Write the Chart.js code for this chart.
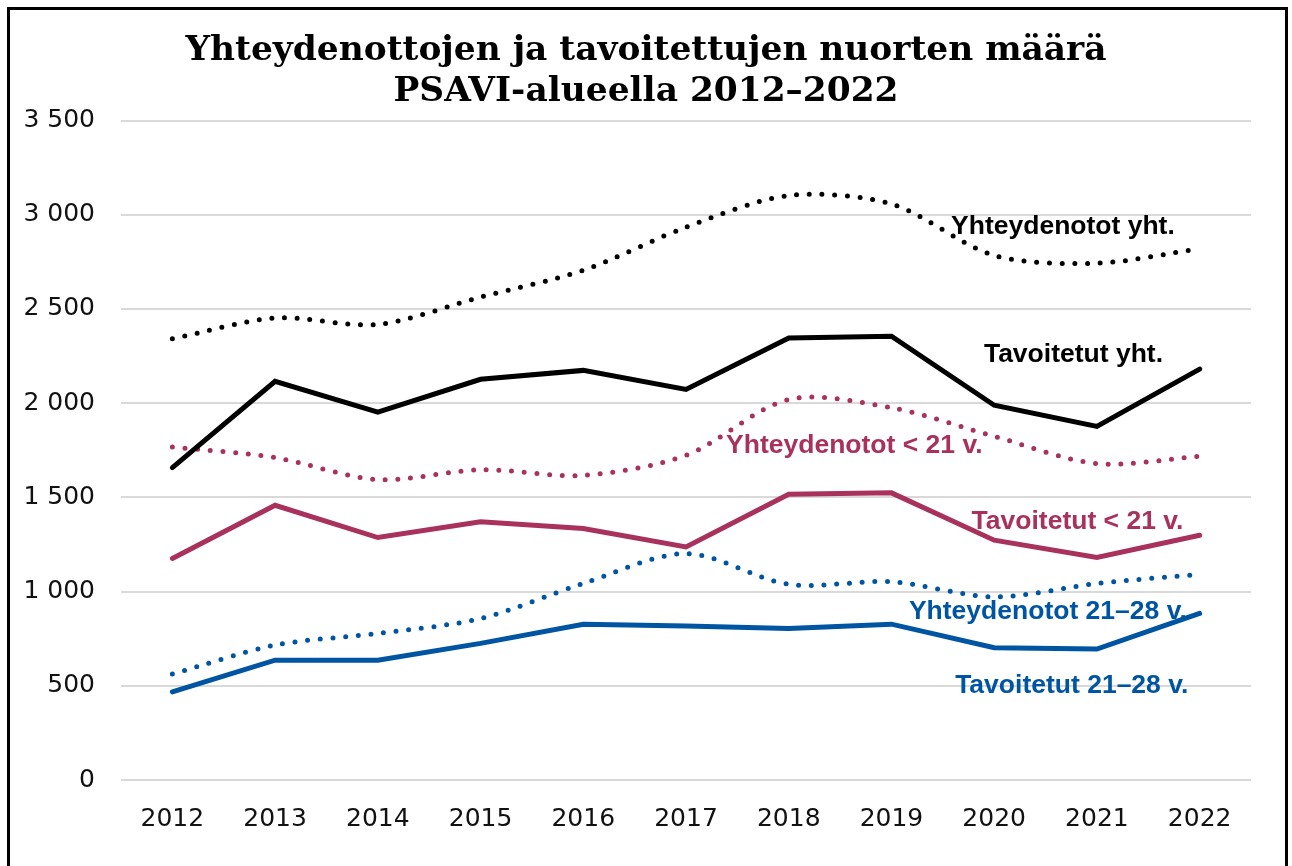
<!DOCTYPE html>
<html>
<head>
<meta charset="utf-8">
<script src="https://cdn.jsdelivr.net/npm/chart.js@4.4.1/dist/chart.umd.min.js"></script>
<style>
  html, body { margin: 0; padding: 0; background: #fff; }
  #wrap { position: relative; width: 1292px; height: 866px; overflow: hidden; }
  #frame { position: absolute; left: 7px; top: 7px; width: 1281px; height: 900px;
           border: 3px solid #000; box-sizing: border-box; pointer-events: none; }
  canvas { position: absolute; left: 0; top: 0; }
</style>
</head>
<body>
<div id="wrap">
  <canvas id="c" width="1292" height="866"></canvas>
  <div id="frame"></div>
</div>
<script>
const years = ['2012','2013','2014','2015','2016','2017','2018','2019','2020','2021','2022'];
const yhteydenototYht   = [2342, 2452, 2418, 2563, 2705, 2934, 3102, 3057, 2784, 2743, 2820];
const tavoitetutYht     = [1658, 2116, 1953, 2127, 2174, 2073, 2346, 2355, 1989, 1877, 2181];
const yhteydenototAlle21 = [1768, 1711, 1594, 1647, 1617, 1723, 2020, 1976, 1824, 1679, 1718];
const tavoitetutAlle21   = [1176, 1458, 1287, 1370, 1335, 1237, 1517, 1524, 1273, 1181, 1299];
const yhteydenotot2128  = [562, 716, 778, 857, 1043, 1202, 1039, 1052, 972, 1043, 1092];
const tavoitetut2128    = [468, 636, 636, 725, 827, 818, 804, 827, 702, 695, 884];
const yTicks = [0, 500, 1000, 1500, 2000, 2500, 3000, 3500];
const titleLines = ['Yhteydenottojen ja tavoitettujen nuorten määrä', 'PSAVI-alueella 2012–2022'];

const BLACK = '#000000';
const MAROON = '#A8325C';
const BLUE = '#0055A2';

// inline series labels: [text, x (category index), y (value), colour]
const seriesLabels = [
  ['Yhteydenotot yht.', 7.58, 2935, BLACK],
  ['Tavoitetut yht.', 7.9, 2260, BLACK],
  ['Yhteydenotot < 21 v.', 5.39, 1775, MAROON],
  ['Tavoitetut < 21 v.', 7.78, 1370, MAROON],
  ['Yhteydenotot 21–28 v.', 7.17, 893, BLUE],
  ['Tavoitetut 21–28 v.', 7.62, 500, BLUE]
];

const dotted = (label, data, color) => ({
  label, data, borderColor: color, backgroundColor: color,
  borderWidth: 5, borderDash: [0, 12.7], borderCapStyle: 'round',
  tension: 0.3, pointRadius: 0, fill: false
});
const solid = (label, data, color) => ({
  label, data, borderColor: color, backgroundColor: color,
  borderWidth: 5, borderCapStyle: 'round', borderJoinStyle: 'miter',
  tension: 0, pointRadius: 0, fill: false
});

const labelPlugin = {
  id: 'seriesLabels',
  afterDatasetsDraw(chart) {
    const {ctx, scales: {x, y}} = chart;
    ctx.save();
    ctx.font = 'bold 26.5px "Liberation Sans", Arial, sans-serif';
    ctx.textAlign = 'left';
    ctx.textBaseline = 'middle';
    seriesLabels.forEach(([t, xi, yv, col]) => {
      const px = x.getPixelForValue(0) + xi * (x.getPixelForValue(1) - x.getPixelForValue(0));
      ctx.fillStyle = col;
      ctx.fillText(t, px, y.getPixelForValue(yv));
    });
    ctx.restore();
  }
};

new Chart(document.getElementById('c'), {
  type: 'line',
  data: {
    labels: years,
    datasets: [
      dotted('Yhteydenotot yht.', yhteydenototYht, BLACK),
      solid('Tavoitetut yht.', tavoitetutYht, BLACK),
      dotted('Yhteydenotot < 21 v.', yhteydenototAlle21, MAROON),
      solid('Tavoitetut < 21 v.', tavoitetutAlle21, MAROON),
      dotted('Yhteydenotot 21–28 v.', yhteydenotot2128, BLUE),
      solid('Tavoitetut 21–28 v.', tavoitetut2128, BLUE)
    ]
  },
  options: {
    responsive: false,
    animation: false,
    layout: { padding: { left: 0, right: 0, top: 0, bottom: 0 } },
    plugins: {
      legend: { display: false },
      tooltip: { enabled: false },
      title: {
        display: true,
        text: titleLines,
        color: '#000',
        font: { family: '"DejaVu Serif", serif', size: 34.4, weight: 'bold', lineHeight: 1.2 },
        padding: { top: 30, bottom: 8 }
      }
    },
    scales: {
      x: {
        offset: true,
        grid: { display: false, drawTicks: false },
        border: { display: false },
        ticks: { color: '#111', padding: 24, font: { family: '"DejaVu Sans", sans-serif', size: 25 }, maxRotation: 0 },
        afterFit(s) { s.height = 86; }
      },
      y: {
        min: 0, max: 3500,
        afterBuildTicks(s) { s.ticks = yTicks.map(v => ({ value: v })); },
        grid: { color: '#d9d9d9', lineWidth: 2, drawTicks: false },
        border: { display: false },
        ticks: {
          color: '#111', padding: 26,
          font: { family: '"DejaVu Sans", sans-serif', size: 25 },
          callback: v => String(v).replace(/\B(?=(\d{3})+(?!\d))/g, ' ')
        },
        afterFit(s) { s.width = 121; }
      },
      yRight: {
        position: 'right',
        min: 0, max: 3500,
        grid: { display: false, drawTicks: false },
        border: { display: false },
        ticks: { display: false },
        afterFit(s) { s.width = 41; }
      }
    }
  },
  plugins: [labelPlugin]
});
</script>
</body>
</html>
